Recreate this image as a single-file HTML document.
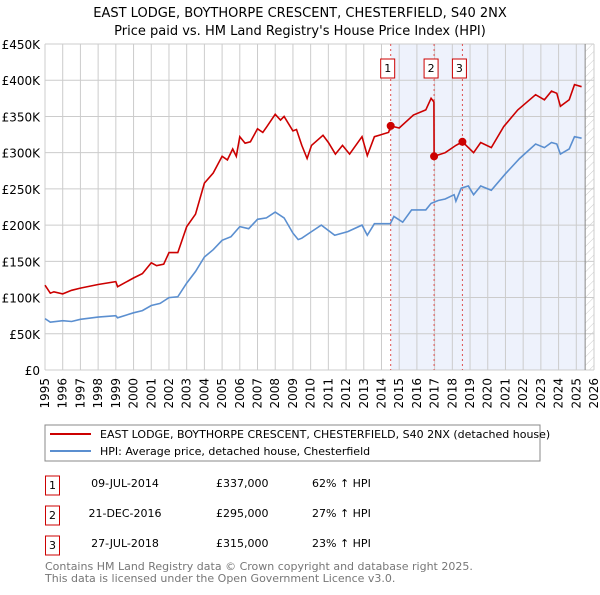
<!DOCTYPE html>
<html><head><meta charset="utf-8"><style>
body{margin:0;background:#fff;font-family:"Liberation Sans","DejaVu Sans",sans-serif;}
svg text{font-family:"DejaVu Sans","Liberation Sans",sans-serif;}
</style></head><body>
<svg id="c" width="600" height="590" viewBox="0 0 600 590" xmlns="http://www.w3.org/2000/svg">
<text x="300" y="17" text-anchor="middle" font-size="13" fill="#000">EAST LODGE, BOYTHORPE CRESCENT, CHESTERFIELD, S40 2NX</text>
<text x="300" y="35" text-anchor="middle" font-size="13" fill="#000">Price paid vs. HM Land Registry's House Price Index (HPI)</text>
<defs><pattern id="hatch" width="6" height="6" patternUnits="userSpaceOnUse" patternTransform="rotate(45)"><line x1="0" y1="0" x2="0" y2="6" stroke="#ccc" stroke-width="1"/></pattern></defs>
<g id="plot"></g>
<rect x="45" y="425" width="495" height="36" fill="#fff" stroke="#888"/>
<line x1="50" y1="434" x2="91" y2="434" stroke="#cc0000" stroke-width="2"/>
<text x="100" y="438" font-size="11">EAST LODGE, BOYTHORPE CRESCENT, CHESTERFIELD, S40 2NX (detached house)</text>
<line x1="50" y1="451" x2="91" y2="451" stroke="#5b8fd0" stroke-width="2"/>
<text x="100" y="455" font-size="11">HPI: Average price, detached house, Chesterfield</text>
<g font-size="11">
<rect x="45.5" y="476" width="14" height="19" fill="#fff" stroke="#cc0000"/><text x="52.5" y="489" text-anchor="middle">1</text>
<text x="125" y="487" text-anchor="middle">09-JUL-2014</text><text x="216" y="487">£337,000</text><text x="312" y="487">62% ↑ HPI</text>
<rect x="45.5" y="506" width="14" height="19" fill="#fff" stroke="#cc0000"/><text x="52.5" y="519" text-anchor="middle">2</text>
<text x="125" y="517" text-anchor="middle">21-DEC-2016</text><text x="216" y="517">£295,000</text><text x="312" y="517">27% ↑ HPI</text>
<rect x="45.5" y="536" width="14" height="19" fill="#fff" stroke="#cc0000"/><text x="52.5" y="549" text-anchor="middle">3</text>
<text x="125" y="547" text-anchor="middle">27-JUL-2018</text><text x="216" y="547">£315,000</text><text x="312" y="547">23% ↑ HPI</text>
</g>
<text x="45" y="570" font-size="11" fill="#777">Contains HM Land Registry data © Crown copyright and database right 2025.</text>
<text x="45" y="582" font-size="11" fill="#777">This data is licensed under the Open Government Licence v3.0.</text>
</svg>
<script>
const hpiYears=[1995,1995.3,1996,1996.5,1997,1998,1999,1999.1,2000,2000.5,2001,2001.5,2002,2002.5,2003,2003.5,2004,2004.5,2005,2005.5,2006,2006.5,2007,2007.5,2008,2008.5,2009,2009.3,2009.5,2010.05,2010.6,2011.36,2012.1,2012.9,2013.2,2013.6,2014.5,2014.7,2015.2,2015.7,2016.5,2016.8,2017.2,2017.6,2018.1,2018.2,2018.5,2018.9,2019.2,2019.6,2020.2,2021.0,2021.8,2022.7,2023.2,2023.6,2023.9,2024.1,2024.6,2024.9,2025.3];
const hpiValues=[71,66,68,67,70,73,75,72,79,82,89,92,100,101,120,136,156,166,179,184,198,195,208,210,218,210,189,180,182,191,200,186,191,200,186,202,202,212,204,221,221,230,234,236,242,233,251,254,242,254,248,271,292,312,307,314,312,298,305,322,320];
const ppYears=[1995,1995.3,1995.5,1996,1996.5,1997,1998,1999,1999.1,2000,2000.5,2001,2001.3,2001.7,2002,2002.5,2003,2003.5,2004,2004.5,2005,2005.3,2005.6,2005.8,2006,2006.3,2006.6,2007,2007.3,2007.5,2008,2008.3,2008.5,2009,2009.2,2009.5,2009.8,2010.05,2010.7,2011.0,2011.4,2011.8,2012.2,2012.9,2013.2,2013.6,2014.4,2014.52,2015.0,2015.8,2016.5,2016.8,2016.96,2016.97,2017.6,2018.2,2018.57,2019.2,2019.6,2020.2,2020.9,2021.7,2022.7,2023.2,2023.6,2023.9,2024.1,2024.6,2024.9,2025.3];
const ppValues=[117,106,108,105,110,113,118,122,115,127,133,148,144,146,162,162,198,215,258,272,295,290,305,295,322,313,315,333,328,335,353,345,350,330,332,310,292,310,324,314,298,310,298,322,296,322,328,337,334,352,359,375,370,295,300,310,315,300,314,307,336,359,380,373,385,382,364,373,394,391];
const saleYears=[2014.52,2016.97,2018.57];
const saleValues=[337,295,315];
const saleLabels=["1","2","3"];
const yTicks=[0,50,100,150,200,250,300,350,400,450];
const yTickLabels=["£0","£50K","£100K","£150K","£200K","£250K","£300K","£350K","£400K","£450K"];
const xTicks=[1995,1996,1997,1998,1999,2000,2001,2002,2003,2004,2005,2006,2007,2008,2009,2010,2011,2012,2013,2014,2015,2016,2017,2018,2019,2020,2021,2022,2023,2024,2025,2026];

const L=45,R=594,T=44,B=370;
const xs=y=>L+(y-1995)/(2026-1995)*(R-L);
const ys=v=>B-v/450*(B-T);
const NS="http://www.w3.org/2000/svg";
const g=document.getElementById('plot');
function mk(t,a){const e=document.createElementNS(NS,t);for(const k in a)e.setAttribute(k,a[k]);g.appendChild(e);return e;}
let e=mk('rect',{x:xs(saleYears[0]),y:T,width:xs(2025.5)-xs(saleYears[0]),height:B-T,fill:'#eef2fc'});


e=mk('rect',{x:xs(2025.5),y:T,width:R-xs(2025.5),height:B-T,fill:'url(#hatch)'});


xTicks.forEach(t=>{
 e=mk('line',{x1:xs(t),x2:xs(t),y1:T,y2:B,stroke:'#ccc'});
 
 
 e=mk('text',{x:0,y:0,'font-size':12,'text-anchor':'end',transform:`translate(${xs(t)+4},${B+8}) rotate(-90)`});
 e.textContent=t;
 
 
});
yTicks.forEach((t,i)=>{
 e=mk('line',{x1:L,x2:R,y1:ys(t),y2:ys(t),stroke:'#ccc'});
 
 
 e=mk('text',{x:40,y:ys(t)+5,'font-size':12,'text-anchor':'end'});
 e.textContent=yTickLabels[i];
 
 
});
e=mk('line',{x1:xs(2025.5),x2:xs(2025.5),y1:T,y2:B,stroke:'#888'});


saleYears.forEach((s,i)=>{
 e=mk('line',{x1:xs(s),x2:xs(s),y1:T,y2:B,stroke:'#e05050','stroke-dasharray':'2,3'});
 
 
 e=mk('rect',{x:xs(s)-7-(i==0?3:3),y:59,width:14,height:19,fill:'#fff',stroke:'#cc0000'});
 
 
 e=mk('text',{x:xs(s)-3,y:72,'font-size':11,'text-anchor':'middle'});
 e.textContent=saleLabels[i];
 
 
});
const path=(xa,va)=>xa.map((x,i)=>(i?'L':'M')+xs(x).toFixed(1)+','+ys(va[i]).toFixed(1)).join('');
e=mk('path',{d:path(hpiYears,hpiValues),fill:'none',stroke:'#5b8fd0','stroke-width':1.6});


e=mk('path',{d:path(ppYears,ppValues),fill:'none',stroke:'#cc0000','stroke-width':1.6});


saleYears.forEach((s,i)=>{
 e=mk('circle',{cx:xs(s),cy:ys(saleValues[i]),r:4,fill:'#cc0000'});
 
 
});
</script>
</body></html>
